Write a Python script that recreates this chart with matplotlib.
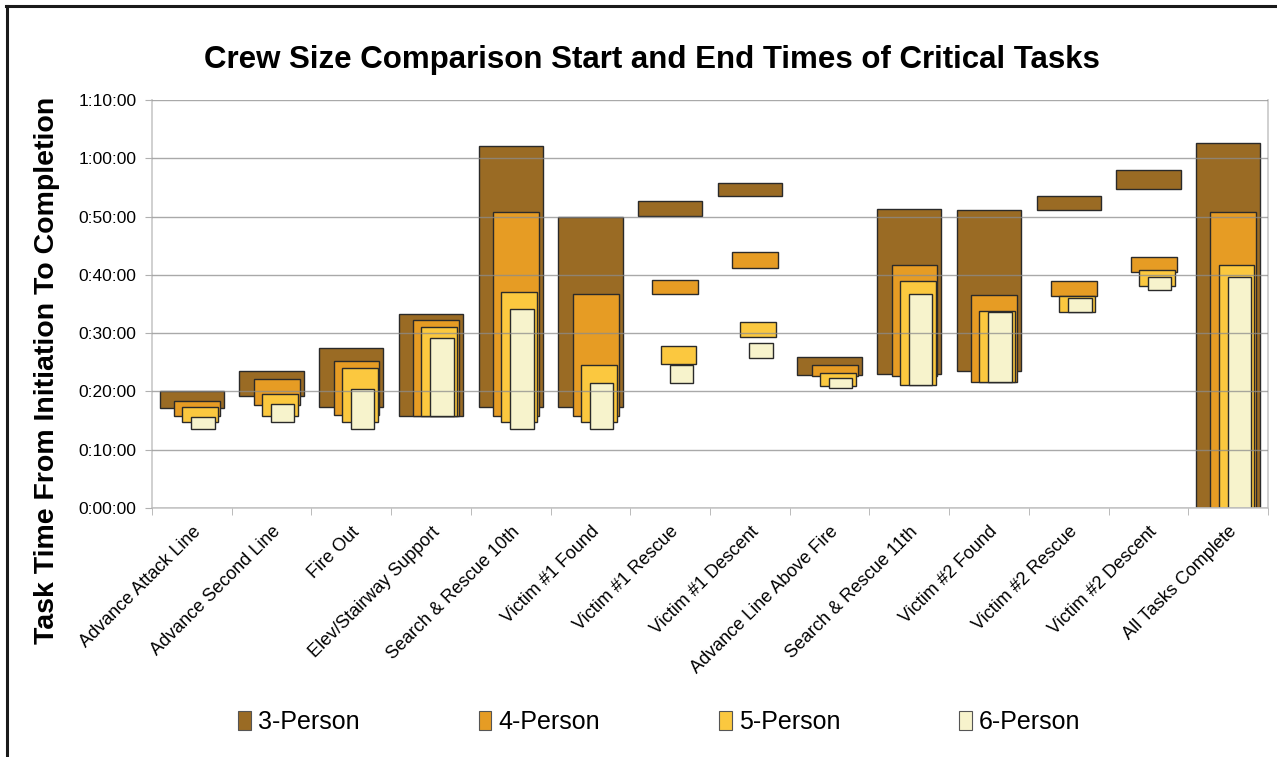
import matplotlib
matplotlib.use("Agg")
import matplotlib.pyplot as plt
from matplotlib.patches import Patch
from matplotlib.lines import Line2D
from matplotlib.ticker import FuncFormatter, MultipleLocator, FixedLocator
import numpy as np

plt.rcParams['font.family'] = ['Liberation Sans', 'DejaVu Sans']

# === Data (minutes from initiation) ===
tasks = ["Advance Attack Line", "Advance Second Line", "Fire Out",
         "Elev/Stairway Support", "Search & Rescue 10th", "Victim #1 Found",
         "Victim #1 Rescue", "Victim #1 Descent", "Advance Line Above Fire",
         "Search & Rescue 11th", "Victim #2 Found", "Victim #2 Rescue",
         "Victim #2 Descent", "All Tasks Complete"]

crews = ["3-Person", "4-Person", "5-Person", "6-Person"]

start_3p = [17.2, 19.2, 17.3, 15.8, 17.3, 17.3, 50.1, 53.6, 22.8, 23.0, 23.55, 51.1, 54.8, 0]
end_3p = [20.0, 23.5, 27.4, 33.2, 62.1, 49.9, 52.7, 55.8, 25.95, 51.3, 51.1, 53.5, 58.0, 62.7]

start_4p = [15.8, 17.7, 16.0, 15.8, 15.8, 15.8, 36.7, 41.2, 22.6, 22.7, 21.55, 36.4, 40.5, 0]
end_4p = [18.4, 22.2, 25.2, 32.2, 50.7, 36.8, 39.2, 43.9, 24.6, 41.7, 36.5, 38.9, 43.0, 50.7]

start_5p = [14.75, 15.7, 14.8, 15.8, 14.7, 14.7, 24.7, 29.3, 21.0, 21.1, 21.55, 33.7, 38.1, 0]
end_5p = [17.3, 19.5, 24.0, 31.1, 37.0, 24.6, 27.8, 31.9, 23.1, 39.0, 33.8, 36.4, 40.9, 41.7]

start_6p = [13.5, 14.75, 13.5, 15.8, 13.6, 13.5, 21.5, 25.8, 20.6, 21.1, 21.55, 33.7, 37.4, 0]
end_6p = [15.55, 17.8, 20.5, 29.2, 34.1, 21.5, 24.5, 28.3, 22.3, 36.8, 33.7, 36.1, 39.7, 39.7]

starts = [start_3p, start_4p, start_5p, start_6p]
ends = [end_3p, end_4p, end_5p, end_6p]

colors = ['#9a6b24', '#e69c24', '#fbc83f', '#f7f3cc']
widths = [0.805, 0.575, 0.45, 0.295]
offsets = [0.0, 0.065, 0.105, 0.14]

# === Figure ===
fig = plt.figure(figsize=(12.77, 7.57), dpi=100)
ax = fig.add_axes([152 / 1277, 1 - 508 / 757, 1116 / 1277, 408 / 757])

x = np.arange(len(tasks))
for i in range(4):
    s = np.array(starts[i])
    e = np.array(ends[i])
    ax.bar(x + offsets[i], e - s, bottom=s, width=widths[i],
           color=colors[i], edgecolor='#2a2a2a', linewidth=1.0, zorder=1)

ax.set_xlim(-0.5, len(tasks) - 0.5)
ax.set_ylim(0, 70)

# y axis as h:mm:ss
def fmt_time(v, pos):
    m = int(round(v))
    return f"{m // 60}:{m % 60:02d}:00"

ax.yaxis.set_major_locator(MultipleLocator(10))
ax.yaxis.set_major_formatter(FuncFormatter(fmt_time))
ax.grid(axis='y', color='#8c8c8c', linewidth=1.0, alpha=0.75)
ax.set_axisbelow(False)

ax.set_xticks(x)
ax.set_xticklabels(tasks, rotation=45, ha='right', rotation_mode='anchor', fontsize=13)
ax.xaxis.set_minor_locator(FixedLocator(np.arange(-0.5, len(tasks), 1.0)))
ax.tick_params(axis='x', which='major', length=0, pad=11)
ax.tick_params(axis='x', which='minor', length=5, color='#b0b0b0', direction='out')
ax.tick_params(axis='y', length=5, color='#b0b0b0', labelsize=12.5, pad=6)

for side in ['left', 'bottom', 'right', 'top']:
    ax.spines[side].set_color('#c8c8c8')
    ax.spines[side].set_linewidth(1.2)
ax.spines['top'].set_visible(False)

# title and y label
fig.text(652 / 1277, 1 - 60 / 757, "Crew Size Comparison Start and End Times of Critical Tasks",
         ha='center', va='center', fontsize=22.5, fontweight='bold')
fig.text(47 / 1277, 1 - 370 / 757, "Task Time From Initiation To Completion",
         ha='center', va='center', rotation=90, fontsize=20.5, fontweight='bold')

# legend
handles = [Patch(facecolor=c, edgecolor='#555555', linewidth=0.8) for c in colors]
fig.legend(handles, crews, loc='center', bbox_to_anchor=(659.5 / 1277, 1 - 722 / 757),
           ncol=4, frameon=False, fontsize=18, handlelength=0.5, handleheight=0.8,
           handletextpad=0.3, columnspacing=4.75)

# outer frame (left and top edges)
fig.add_artist(Line2D([7 / 1277, 7 / 1277], [0, 1 - 6 / 757], color='#1a1a1a',
                      linewidth=2.2, transform=fig.transFigure))
fig.add_artist(Line2D([6 / 1277, 1], [1 - 6 / 757, 1 - 6 / 757], color='#1a1a1a',
                      linewidth=2.2, transform=fig.transFigure))

fig.savefig("out.png", dpi=100, facecolor='white')
